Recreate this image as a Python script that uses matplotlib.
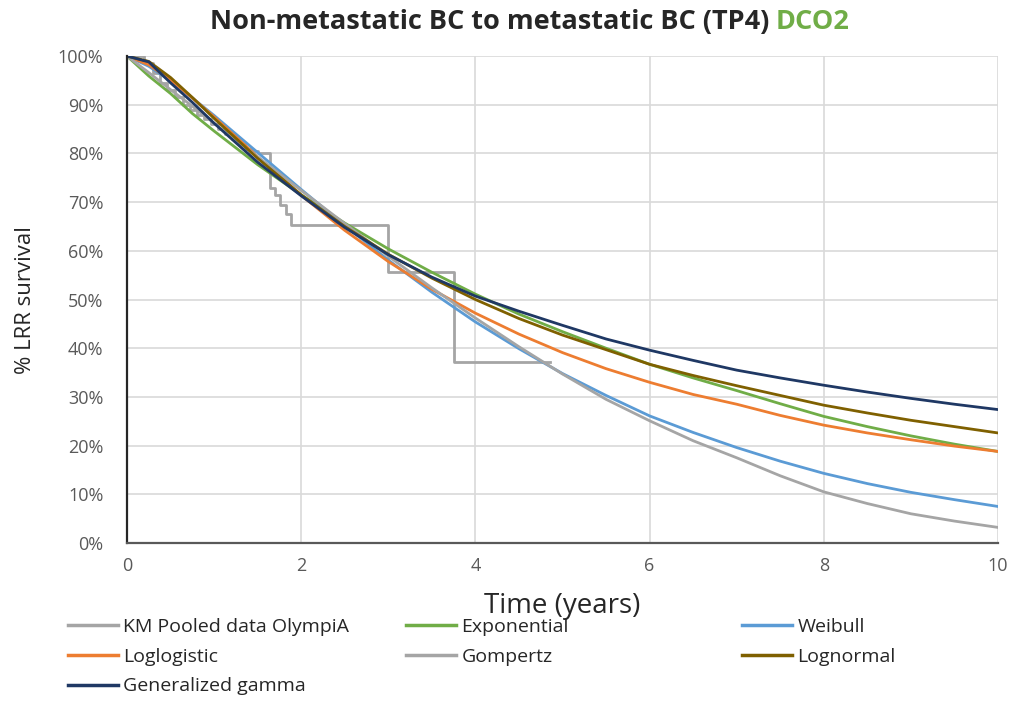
import matplotlib.pyplot as plt
from matplotlib.lines import Line2D
from matplotlib.ticker import PercentFormatter

# Time grid (years) shared by the fitted curves
years = [0, 0.25, 0.5, 0.75, 1, 1.5, 2, 2.5, 3, 3.5, 4, 4.5, 5, 5.5, 6, 6.5, 7, 7.5, 8, 8.5, 9, 9.5, 10]

# Fitted survival (%) per distribution
exponential = [100, 95.9, 92.3, 88.2, 84.6, 77.7, 71.5, 65.7, 60.4, 55.6, 51.1, 47.0, 43.4, 40.0, 36.7, 33.9, 31.3, 28.6, 26.0, 23.9, 22.0, 20.3, 18.8]
weibull = [100, 97.9, 94.9, 91.4, 87.8, 80.2, 72.6, 65.2, 58.1, 51.5, 45.4, 39.9, 34.8, 30.3, 26.1, 22.7, 19.6, 16.8, 14.3, 12.2, 10.4, 8.9, 7.5]
loglogistic = [100, 98.2, 95.1, 91.4, 87.5, 79.3, 71.4, 64.2, 57.8, 52.1, 47.2, 42.9, 39.1, 35.8, 33.0, 30.5, 28.5, 26.2, 24.2, 22.6, 21.2, 19.9, 18.8]
gompertz = [100, 96.6, 93.1, 89.7, 86.2, 79.3, 72.4, 65.6, 58.9, 52.4, 46.2, 40.3, 34.7, 29.5, 25.1, 21.0, 17.5, 13.8, 10.5, 8.1, 6.0, 4.5, 3.2]
lognormal = [100, 98.9, 95.6, 91.5, 87.2, 79.0, 71.5, 65.0, 59.3, 54.4, 50.0, 46.1, 42.7, 39.7, 36.7, 34.4, 32.3, 30.3, 28.3, 26.7, 25.2, 23.9, 22.6]
gen_gamma = [100, 98.8, 94.5, 90.5, 86.2, 78.2, 71.3, 64.8, 59.2, 54.6, 50.7, 47.6, 44.7, 41.9, 39.6, 37.5, 35.5, 33.9, 32.4, 31.0, 29.7, 28.5, 27.4]

# Kaplan-Meier pooled data (step function)
km_time = [0, 0.2, 0.3, 0.38, 0.46, 0.55, 0.64, 0.72, 0.8, 0.88, 0.96, 1.04, 1.12, 1.2, 1.28, 1.36, 1.44,
           1.5, 1.64, 1.7, 1.76, 1.82, 1.88, 3.0, 3.75, 4.86]
km_surv = [100, 98.5, 96.5, 94.5, 93.0, 91.5, 90.0, 89.0, 88.0, 87.0, 86.0, 85.0, 84.0, 83.0, 82.0, 81.0, 80.5,
           80.0, 73.0, 71.5, 69.5, 67.5, 65.3, 55.6, 37.1, 37.1]

x_ticks = [0, 2, 4, 6, 8, 10]
y_ticks = [0, 10, 20, 30, 40, 50, 60, 70, 80, 90, 100]

FONT = ['Open Sans', 'DejaVu Sans']
GREY = '#A5A5A5'
TEXT = '#595959'
DARK = '#262626'


def draw_title(fig, xc, y, parts, **kw):
    """Centre a run of differently coloured strings on xc (figure fraction)."""
    r = fig.canvas.get_renderer()
    texts = [fig.text(0, y, s, color=c, va='center', **kw) for s, c in parts]
    widths = [t.get_window_extent(r).width for t in texts]
    x = xc * fig.bbox.width - sum(widths) / 2
    for t, w in zip(texts, widths):
        t.set_x(x / fig.bbox.width)
        x += w


def main():
    plt.rcParams['font.family'] = FONT
    fig = plt.figure(figsize=(10.13, 7.01), dpi=100)
    ax = fig.add_axes([0.1254, 0.2254, 0.8598, 0.6946])

    lw = 2.0
    km, = ax.plot(km_time, km_surv, color=GREY, lw=2.0, drawstyle='steps-post')
    exp_l, = ax.plot(years, exponential, color='#70AD47', lw=lw)
    wei_l, = ax.plot(years, weibull, color='#5B9BD5', lw=lw)
    llog_l, = ax.plot(years, loglogistic, color='#ED7D31', lw=lw)
    gomp_l, = ax.plot(years, gompertz, color=GREY, lw=lw)
    lnorm_l, = ax.plot(years, lognormal, color='#7F6000', lw=lw)
    gg_l, = ax.plot(years, gen_gamma, color='#1F3864', lw=lw)

    ax.set_xlim(0, 10)
    ax.set_ylim(0, 100)
    ax.set_xticks(x_ticks)
    ax.set_yticks(y_ticks)
    ax.yaxis.set_major_formatter(PercentFormatter(decimals=0))
    ax.grid(True, color='#D9D9D9', lw=1.2)
    ax.set_axisbelow(True)
    ax.tick_params(length=0, labelsize=13, colors=TEXT)
    ax.tick_params(axis='y', pad=17)
    ax.tick_params(axis='x', pad=10)
    for side in ['top', 'right']:
        ax.spines[side].set_visible(False)
    ax.spines['left'].set_color(DARK)
    ax.spines['left'].set_linewidth(1.6)
    ax.spines['bottom'].set_color('#595959')
    ax.spines['bottom'].set_linewidth(1.6)

    ax.set_xlabel('Time (years)', fontsize=20, color=DARK, labelpad=12)
    fig.text(0.025, 0.572, '% LRR survival', rotation=90, fontsize=16,
             color=DARK, ha='center', va='center')

    fig.canvas.draw()
    draw_title(fig, 0.523, 0.968,
               [('Non-metastatic BC to metastatic BC (TP4) ', DARK), ('DCO2', '#70AD47')],
               fontsize=19.5, fontweight='bold')

    # legend laid out as three separate columns
    columns = [
        ([km, llog_l, gg_l], ['KM Pooled data OlympiA', 'Loglogistic', 'Generalized gamma'], 68),
        ([exp_l, gomp_l], ['Exponential', 'Gompertz'], 406),
        ([wei_l, lnorm_l], ['Weibull', 'Lognormal'], 742),
    ]
    for handles, labels, xpix in columns:
        hs = [Line2D([], [], color=h.get_color(), lw=2.5) for h in handles]
        leg = fig.legend(hs, labels, loc='upper left',
                         bbox_to_anchor=(xpix / 1013, 1 - 618 / 701),
                         bbox_transform=fig.transFigure, frameon=False,
                         prop={'size': 14},
                         handlelength=2.55, handletextpad=0.3, labelspacing=0.6,
                         borderaxespad=0, borderpad=0)
        for txt in leg.get_texts():
            txt.set_color(DARK)

    fig.savefig('out.png', dpi=100)


if __name__ == '__main__':
    main()
